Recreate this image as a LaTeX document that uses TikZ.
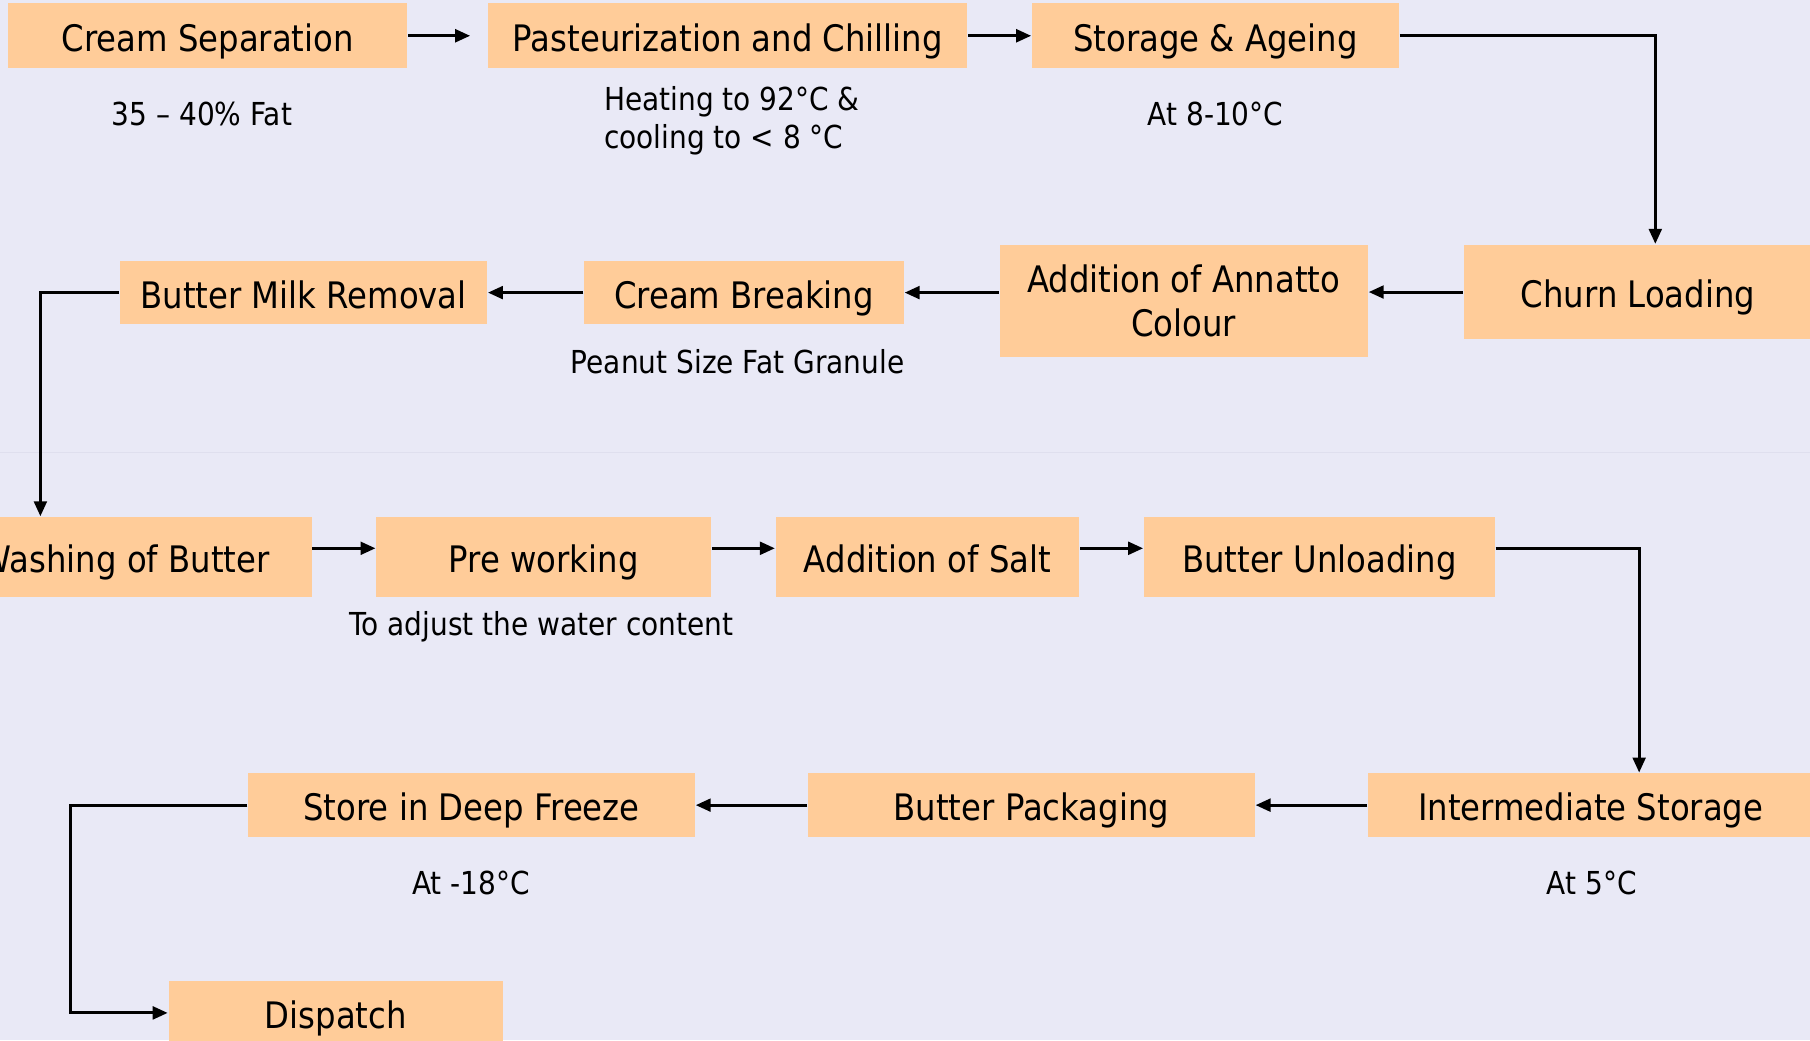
\documentclass[tikz,border=0pt]{standalone}
\usepackage{fontspec}
\setmainfont{DejaVu Sans}[FakeStretch=0.885]
\usepackage{xcolor}
\usepackage{tikz}
\usetikzlibrary{arrows.meta,positioning}

\definecolor{slidebg}{HTML}{E9E9F6}
\definecolor{slideline}{HTML}{DFDFEE}
\definecolor{peach}{HTML}{FFCC99}

\begin{document}
\begin{tikzpicture}[
    x=0.1mm, y=-0.1mm,
    font=\fontsize{9pt}{10.8pt}\selectfont,
    >={Triangle[length=1.3mm, width=1.1mm]},
    flow/.style={->, line width=0.75pt},
    proc/.style={fill=peach, align=center, inner sep=0pt, minimum height=5.6mm,
                 text height=3.1mm, text depth=0.4mm},
    note/.style={font=\fontsize{7.8pt}{9.4pt}\selectfont, align=left},
]

% --- Slide background ---
\clip (0,0) rectangle (1568,901);
\fill[slidebg] (0,0) rectangle (1568,901);
\draw[slideline] (0,392) -- (1568,392);

% --- Row 1: separation to ageing ---
\node[proc, minimum width=34.6mm] (sep)  at (180,31)   {Cream Separation};
\node[proc, minimum width=41.5mm] (past) at (630.5,31) {Pasteurization and Chilling};
\node[proc, minimum width=31.8mm] (age)  at (1053,31)  {Storage \& Ageing};

\node[note] (fat)  at (175,99)  {35 -- 40\% Fat};
\node[note] (heat) at (634,105) {Heating to 92°C \&\\cooling to < 8 °C};
\node[note] (aget) at (1053,99) {At 8-10°C};

% --- Row 2: churning (right to left) ---
\node[proc, minimum width=30.2mm, minimum height=8.2mm] (churn)    at (1419,253)    {Churn Loading};
\node[proc, minimum width=31.9mm, minimum height=9.7mm,
      text height=, text depth=]                       (annatto)  at (1025.5,260.5) {Addition of Annatto\\Colour};
\node[proc, minimum width=27.7mm, minimum height=5.5mm] (breaking) at (644.5,253.5) {Cream Breaking};
\node[proc, minimum width=31.8mm, minimum height=5.5mm] (bmr)      at (263,253.5)   {Butter Milk Removal};

\node[note] (granule) at (639,313) {Peanut Size Fat Granule};

% --- Row 3: working the butter ---
\node[proc, minimum width=32.4mm, minimum height=6.9mm] (wash)    at (108,482.5)   {Washing of Butter};
\node[proc, minimum width=29mm,   minimum height=6.9mm] (prework) at (471,482.5)   {Pre working};
\node[proc, minimum width=26.3mm, minimum height=6.9mm] (salt)    at (803.5,482.5) {Addition of Salt};
\node[proc, minimum width=30.4mm, minimum height=6.9mm] (unload)  at (1143,482.5)  {Butter Unloading};

\node[note] (water) at (469,543) {To adjust the water content};

% --- Row 4: storage and dispatch ---
\node[proc, minimum width=38.6mm, minimum height=5.5mm] (inter)    at (1378,697.5)  {Intermediate Storage};
\node[proc, minimum width=38.7mm, minimum height=5.5mm] (pack)     at (893.5,697.5) {Butter Packaging};
\node[proc, minimum width=38.7mm, minimum height=5.5mm] (freeze)   at (408.5,697.5) {Store in Deep Freeze};
\node[proc, minimum width=29mm,   minimum height=5.5mm] (dispatch) at (291,877.5)   {Dispatch};

\node[note] (freezet) at (408,765)  {At -18°C};
\node[note] (intert)  at (1379,765) {At 5°C};

% --- Flow arrows ---
\draw[flow, shorten >=1.5mm] (sep) -- (past);
\draw[flow] (past) -- (age);
\draw[flow] (age.east) -| ([xshift=1.5mm]churn.north);
\draw[flow] (churn.west) -- (churn.west -| annatto.east);
\draw[flow] (breaking.east -| annatto.west) -- (breaking.east);
\draw[flow] (breaking) -- (bmr);
\draw[flow] (bmr.west) -| ([xshift=-7.3mm]wash.north);
\draw[flow] ([yshift=0.75mm]wash.east)    -- ([yshift=0.75mm]prework.west);
\draw[flow] ([yshift=0.75mm]prework.east) -- ([yshift=0.75mm]salt.west);
\draw[flow] ([yshift=0.75mm]salt.east)    -- ([yshift=0.75mm]unload.west);
\draw[flow] ([yshift=0.75mm]unload.east) -| ([xshift=4.2mm]inter.north);
\draw[flow] (inter) -- (pack);
\draw[flow] (pack) -- (freeze);
\draw[flow] (freeze.west) -- ++(-153,0) |- (dispatch.west);

\end{tikzpicture}
\end{document}
